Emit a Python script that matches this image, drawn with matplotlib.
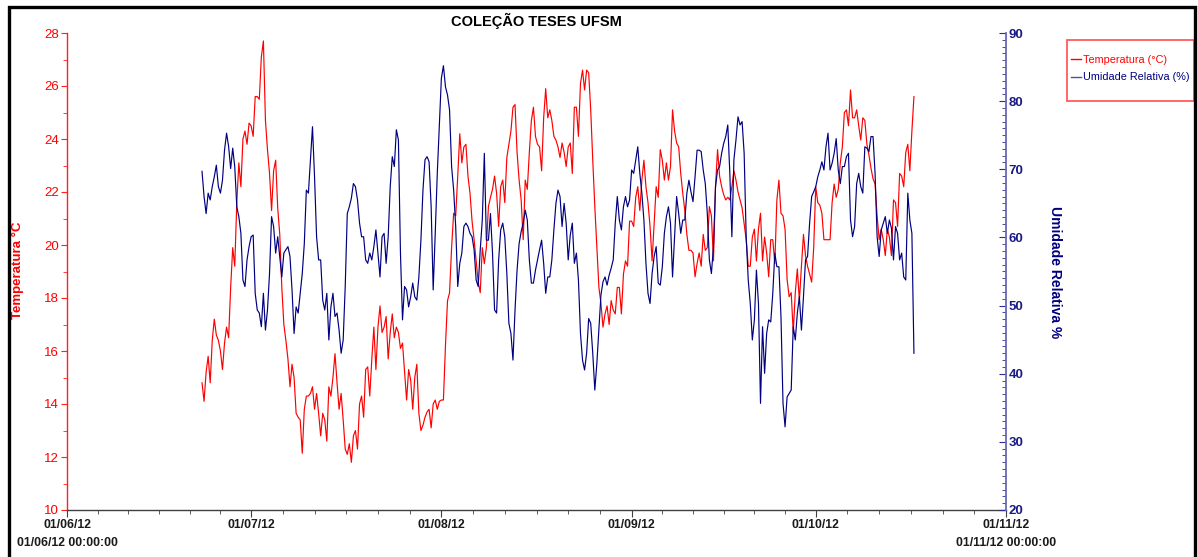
import matplotlib
matplotlib.use('Agg')
import matplotlib.pyplot as plt
from matplotlib.patches import Rectangle
from matplotlib.lines import Line2D
import pandas as pd

plt.rcParams['font.family'] = ['Liberation Sans', 'DejaVu Sans']

# ---------------- data (8-hour steps) ----------------
start = '2012-06-23 00:00'
freq = '8h'

temperatura = [
    14.8, 14.1, 15.2, 15.8, 14.8, 16.4, 17.2, 16.6, 16.4, 16.0,
    15.3, 16.3, 16.9, 16.5, 18.4, 19.9, 19.2, 21.6, 23.1, 22.2,
    24.0, 24.3, 23.8, 24.6, 24.5, 24.1, 25.6, 25.6, 25.5, 27.1,
    27.7, 24.7, 23.6, 22.7, 21.3, 22.8, 23.2, 21.4, 20.4, 18.4,
    17.0, 16.4, 15.7, 14.65, 15.5, 15.0, 13.65, 13.5, 13.4, 12.14,
    13.8, 14.3, 14.3, 14.4, 14.65, 13.8, 14.4, 13.65, 12.8, 13.65,
    13.4, 12.6, 14.65, 14.3, 15.0, 15.9, 14.8, 13.8, 14.4, 13.4,
    12.3, 12.1, 12.5, 11.8, 12.8, 13.0, 12.3, 14.0, 14.3, 13.5,
    15.3, 15.4, 14.3, 15.7, 16.9, 15.3, 16.9, 17.7, 16.7, 16.9,
    17.3, 15.7, 16.7, 17.4, 16.5, 16.9, 16.7, 16.1, 16.3, 15.2,
    14.15, 15.3, 14.9, 13.8, 15.0, 15.5, 13.65, 13.0, 13.2, 13.5,
    13.7, 13.8, 13.1, 14.0, 14.15, 13.8, 14.1, 14.15, 14.15, 16.2,
    17.9, 18.2, 19.9, 21.2, 21.1, 22.6, 24.2, 23.1, 23.7, 23.8,
    22.6, 21.95, 20.9, 20.2, 19.4, 18.6, 18.2, 19.9, 19.3, 19.9,
    21.45, 21.8, 22.1, 22.6, 21.95, 20.7, 22.2, 22.45, 21.6, 23.3,
    23.8, 24.3, 25.2, 25.3, 23.5, 22.45, 21.7, 20.2, 22.45, 22.1,
    23.5, 24.7, 25.2, 24.1, 23.8, 23.7, 22.8, 24.8, 25.9, 24.8,
    25.1, 24.7, 24.1, 23.96, 23.7, 23.3, 23.85, 23.5, 22.96, 23.7,
    23.85, 22.7, 25.2, 25.2, 24.1, 26.1, 26.6, 25.85, 26.6, 26.5,
    25.1, 23.2, 21.45, 19.9, 18.4, 17.8, 16.9, 17.4, 17.7, 17.0,
    17.9, 17.55, 17.4, 18.4, 18.4, 17.4, 18.9, 19.4, 19.2, 20.9,
    20.9, 20.7, 21.8, 22.2, 21.3, 22.45, 23.2, 22.2, 21.6, 20.7,
    19.4, 20.8, 22.2, 21.8, 23.6, 23.2, 22.45, 23.1, 22.45, 22.96,
    25.1, 24.3, 23.85, 23.7, 22.7, 21.95, 21.3, 20.4, 19.8, 19.8,
    19.7, 18.8, 19.3, 19.7, 19.2, 20.4, 19.8, 19.9, 21.45, 21.1,
    19.4, 22.2, 23.6, 22.6, 22.2, 21.9, 21.7, 21.8, 21.7, 22.2,
    22.8, 22.45, 22.0, 21.7, 21.4, 20.8, 20.2, 19.2, 19.2, 20.3,
    20.6, 19.4, 20.6, 21.2, 19.4, 20.3, 19.7, 18.8, 20.2, 20.2,
    19.3, 21.7, 22.45, 21.2, 21.1, 20.6, 18.7, 18.05, 18.2, 16.7,
    18.2, 19.1, 17.9, 19.2, 20.4, 19.6, 19.2, 18.9, 18.6, 19.9,
    22.2, 21.6, 21.5, 21.2, 20.2, 20.2, 20.2, 20.2, 21.6, 22.3,
    21.8, 22.1, 23.1, 23.7, 25.0, 25.1, 24.5, 25.85, 24.8, 24.8,
    25.1, 24.5, 23.96, 24.8, 24.7, 23.8, 23.4, 22.9, 22.5, 22.3,
    21.1, 20.2, 20.6, 20.2, 19.6, 20.6, 20.3, 19.6, 21.7, 21.6,
    20.7, 22.7, 22.6, 22.2, 23.5, 23.8, 22.8, 24.3, 25.6,
]

umidade = [
    69.7, 66.0, 63.5, 66.5, 65.5, 67.45, 68.9, 70.6, 67.45, 66.5,
    68.4, 72.8, 75.3, 73.35, 70.1, 73.1, 70.4, 64.5, 63.05, 60.6,
    53.75, 52.8, 56.7, 58.65, 60.1, 60.35, 51.8, 49.35, 48.9, 46.9,
    51.8, 46.4, 49.35, 54.7, 63.05, 61.6, 57.7, 60.1, 57.2, 54.2,
    57.7, 58.2, 58.65, 57.2, 52.3, 45.9, 49.8, 48.9, 51.8, 54.7,
    59.1, 66.95, 66.5, 71.4, 76.25, 68.9, 60.1, 56.7, 56.7, 50.8,
    49.35, 51.8, 44.95, 49.8, 51.8, 48.4, 48.9, 46.4, 43.0, 44.95,
    52.8, 63.5, 64.5, 65.75, 67.9, 67.45, 65.5, 62.1, 60.1, 60.1,
    56.7, 56.2, 57.7, 56.7, 58.65, 61.1, 57.7, 54.2, 60.1, 60.6,
    56.2, 60.1, 67.45, 71.85, 70.4, 75.8, 74.3, 57.7, 47.9, 52.8,
    52.3, 49.8, 51.3, 53.3, 51.3, 50.8, 54.2, 59.6, 66.95, 71.4,
    71.85, 71.1, 64.5, 52.3, 60.6, 69.4, 76.25, 83.35, 85.2, 82.1,
    80.9, 78.7, 70.4, 66.95, 61.6, 52.8, 56.2, 57.7, 61.6, 62.1,
    61.6, 60.6, 60.1, 58.2, 53.75, 52.8, 58.2, 62.56, 72.35, 59.6,
    59.6, 63.5, 57.7, 49.35, 48.9, 56.7, 61.1, 62.1, 60.1, 54.7,
    47.4, 45.9, 42.0, 49.35, 55.2, 59.1, 60.85, 62.1, 64.0, 62.56,
    56.7, 53.3, 53.3, 55.2, 56.7, 58.2, 59.6, 56.2, 51.8, 54.2,
    54.2, 56.7, 61.1, 65.0, 66.95, 66.0, 61.6, 65.0, 62.1, 56.7,
    60.35, 62.1, 56.2, 57.7, 53.75, 45.9, 42.0, 40.55, 43.0, 48.1,
    47.4, 43.0, 37.6, 41.5, 46.4, 51.55, 53.5, 54.2, 53.0, 54.45,
    55.5, 56.7, 62.1, 66.0, 62.56, 61.1, 64.5, 66.0, 64.5, 65.5,
    69.9, 69.4, 71.4, 73.3, 69.4, 66.5, 62.56, 56.2, 51.8, 50.3,
    54.7, 57.2, 58.65, 53.3, 53.0, 55.7, 60.6, 63.05, 64.5, 62.1,
    54.2, 60.1, 66.0, 63.5, 60.6, 62.56, 62.56, 66.5, 68.4, 66.7,
    65.25, 68.9, 72.8, 72.8, 72.6, 69.9, 67.9, 63.5, 56.7, 54.7,
    58.65, 67.45, 69.9, 70.4, 72.35, 73.8, 74.8, 76.5, 69.4, 60.1,
    71.4, 74.3, 77.7, 76.5, 77.0, 72.35, 60.1, 53.75, 50.3, 44.95,
    47.9, 55.2, 50.3, 35.65, 46.9, 40.06, 45.9, 47.9, 47.6, 51.8,
    57.7, 55.7, 55.7, 48.4, 35.65, 32.2, 36.6, 37.1, 37.6, 46.9,
    44.95, 48.9, 51.3, 46.4, 51.3, 56.7, 57.2, 62.1, 66.0, 66.7,
    67.45, 68.9, 69.9, 71.1, 69.9, 73.3, 75.3, 69.9, 70.9, 72.35,
    74.5, 69.9, 67.9, 70.4, 70.4, 71.85, 72.35, 62.56, 60.1, 61.6,
    67.9, 69.4, 67.45, 66.5, 73.3, 73.1, 72.6, 74.8, 74.8, 69.4,
    60.1, 57.2, 61.1, 62.1, 63.05, 60.6, 62.56, 61.35, 56.7, 61.6,
    60.6, 56.7, 57.7, 54.2, 53.75, 66.5, 62.56, 60.6, 43.0,
]

month_ticks = ['2012-06-01', '2012-07-01', '2012-08-01', '2012-09-01',
               '2012-10-01', '2012-11-01']
month_labels = ['01/06/12\n01/06/12 00:00:00', '01/07/12', '01/08/12',
                '01/09/12', '01/10/12', '01/11/12\n01/11/12 00:00:00']

title = 'COLEÇÃO TESES UFSM'
label_t = 'Temperatura (°C)'
label_u = 'Umidade Relativa (%)'

# ---------------- figure ----------------
W, H = 1198, 557
fig = plt.figure(figsize=(W / 100, H / 100), dpi=100)
fig.patch.set_facecolor('white')

ax = fig.add_axes([67 / W, (H - 510) / H, (1006 - 67) / W, (510 - 33) / H])
ax2 = ax.twinx()

times = pd.date_range(start, periods=len(temperatura), freq=freq)
RED = '#FF0000'
NAVY = '#000080'
ax.plot(times, temperatura, color=RED, lw=0.85)
ax2.plot(times, umidade, color=NAVY, lw=0.85)

mt = pd.to_datetime(month_ticks)
ax.set_xlim(mt[0], mt[-1])
ax.set_ylim(10, 28)
ax2.set_ylim(20, 90)

# spines
for a in (ax, ax2):
    a.spines['top'].set_visible(False)
ax.spines['right'].set_visible(False)
ax2.spines['left'].set_visible(False)
ax2.spines['bottom'].set_visible(False)
ax.spines['left'].set_color('#FF2020')
ax.spines['bottom'].set_color('#404040')
ax2.spines['right'].set_color('#6A6AB0')
for s in ('left', 'bottom'):
    ax.spines[s].set_linewidth(1.0)
ax2.spines['right'].set_linewidth(1.3)

# x ticks
ax.set_xticks(mt)
ax.set_xticklabels(month_labels, fontweight='bold', color='#1a1a1a',
                   fontsize=8.8, ha='center', multialignment='center',
                   linespacing=1.65)
minor = []
for a_, b_ in zip(mt[:-1], mt[1:]):
    step = (b_ - a_) / 6
    minor += [a_ + step * i for i in range(1, 6)]
ax.set_xticks(minor, minor=True)
ax.tick_params(axis='x', which='major', direction='out', length=5,
               color='#404040', pad=1.5)
ax.tick_params(axis='x', which='minor', direction='out', length=3,
               color='#404040')

# left y ticks
ax.set_yticks(range(10, 29, 2))
ax.set_yticks(range(11, 28, 2), minor=True)
ax.tick_params(axis='y', which='major', direction='out', length=4,
               color='#FF2020', labelcolor=RED, labelsize=9.5, pad=2)
ax.tick_params(axis='y', which='minor', direction='out', length=3,
               color='#FF2020')

# right y ticks
ax2.set_yticks(range(20, 91, 10))
ax2.set_yticks([v for v in range(21, 90) if v % 10], minor=True)
ax2.tick_params(axis='y', which='major', direction='in', length=5,
                color='#2a2a90', labelcolor='#1a1a88', labelsize=9.5, pad=2)
ax2.tick_params(axis='y', which='minor', direction='in', length=3,
                color='#2a2a90')
for lab in ax2.get_yticklabels():
    lab.set_fontweight('bold')

# titles / labels
fig.text(536.5 / W, 1 - 21 / H, title, ha='center', va='center',
         fontsize=10.5, fontweight='bold', color='black')
fig.text(18 / W, 1 - 270 / H, 'Temperatura °C', rotation=90, ha='center',
         va='center', color=RED, fontweight='bold', fontsize=9.5)
fig.text(1055 / W, 1 - 272 / H, 'Umidade Relativa %', rotation=270,
         ha='center', va='center', color=NAVY, fontweight='bold', fontsize=10)

# legend (frame drawn separately to match the reference box)
fig.patches.append(Rectangle((1067 / W, 1 - 101 / H), (1194 - 1067) / W,
                             (101 - 40) / H, transform=fig.transFigure,
                             fill=False, edgecolor='#FF5A5A', lw=1.3,
                             zorder=5))
handles = [Line2D([], [], color=RED, lw=1), Line2D([], [], color='#5050A0', lw=1)]
leg = fig.legend(handles, [label_t, label_u], loc='upper left',
                 bbox_to_anchor=(1071 / W, 1 - 55 / H), frameon=False,
                 fontsize=7.8, handlelength=0.95, handletextpad=0.15,
                 borderpad=0, labelspacing=0.68, borderaxespad=0)
for txt, c in zip(leg.get_texts(), [RED, NAVY]):
    txt.set_color(c)

# outer frame
fig.patches.append(Rectangle((9 / W, -0.05), (1195 - 9) / W, 1.05 - 7 / H,
                             transform=fig.transFigure, fill=False,
                             edgecolor='black', lw=2.4, zorder=10))

fig.savefig('out.png', dpi=100)
